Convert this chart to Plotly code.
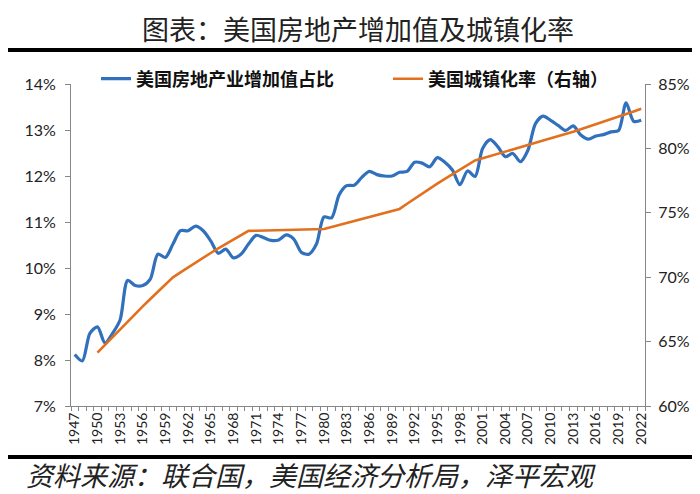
import plotly.graph_objects as go

years = list(range(1947, 2023))

# 美国房地产业增加值占比 (%), left axis
re_share = [8.12, 7.98, 8.58, 8.72, 8.37, 8.58, 8.87, 9.73, 9.62, 9.62,
            9.76, 10.30, 10.23, 10.52, 10.81, 10.81, 10.91, 10.81, 10.59, 10.32,
            10.41, 10.22, 10.30, 10.52, 10.71, 10.66, 10.60, 10.61, 10.72, 10.63,
            10.34, 10.30, 10.52, 11.11, 11.09, 11.59, 11.79, 11.80, 11.97, 12.10,
            12.03, 12.00, 12.00, 12.08, 12.10, 12.30, 12.28, 12.20, 12.40, 12.30,
            12.13, 11.81, 12.11, 11.99, 12.60, 12.79, 12.64, 12.42, 12.49, 12.31,
            12.56, 13.14, 13.30, 13.21, 13.10, 12.99, 13.09, 12.89, 12.80, 12.87,
            12.90, 12.96, 12.99, 13.59, 13.19, 13.21]

# 美国城镇化率 (%), right axis
urban = [None, None, None,
         64.15, 64.76, 65.37, 65.98, 66.57, 67.15, 67.74, 68.31, 68.88, 69.44,
         69.99, 70.38, 70.77, 71.14, 71.51, 71.88, 72.24, 72.58, 72.93, 73.27,
         73.60, 73.61, 73.62, 73.63, 73.64, 73.65, 73.67, 73.69, 73.71, 73.72,
         73.74, 73.90, 74.05, 74.20, 74.35, 74.50, 74.66, 74.82, 74.98, 75.14,
         75.30, 75.70, 76.10, 76.49, 76.88, 77.26, 77.63, 77.99, 78.35, 78.71,
         79.06, 79.23, 79.41, 79.58, 79.76, 79.93, 80.10, 80.27, 80.44, 80.61,
         80.77, 80.94, 81.12, 81.30, 81.48, 81.67, 81.86, 82.06, 82.26, 82.46,
         82.66, 82.87, 83.08]

year_ticks = list(range(1947, 2023, 3))
left_ticks = [7, 8, 9, 10, 11, 12, 13, 14]
right_ticks = [60, 65, 70, 75, 80, 85]

title_text = "图表：美国房地产增加值及城镇化率"
source_text = "资料来源：联合国，美国经济分析局，泽平宏观"
name_a = "美国房地产业增加值占比"
name_b = "美国城镇化率（右轴）"

BLUE = "#3070BC"
ORANGE = "#E2701F"
AXIS = "#878787"
CJK = "Noto Sans CJK SC"
NUM = "Lato, 'Open Sans', sans-serif"

fig = go.Figure()
fig.add_trace(go.Scatter(
    x=years, y=re_share, name=name_a, mode="lines",
    line=dict(color=BLUE, width=3.2, shape="spline", smoothing=0.8),
    legend="legend", yaxis="y"))
fig.add_trace(go.Scatter(
    x=years, y=urban, name=name_b, mode="lines",
    line=dict(color=ORANGE, width=2.6),
    legend="legend2", yaxis="y2"))

W, H = 700, 494
L, R, T, B = 63, 63, 76, 96
PW, PH = W - L - R, H - T - B


def py(px):
    """paper y from pixel y (top-down)"""
    return (H - B - px) / PH


def px_(x):
    return (x - L) / PW


fig.update_layout(
    width=W, height=H,
    margin=dict(l=L, r=R, t=T, b=B, pad=0),
    paper_bgcolor="white", plot_bgcolor="white",
    font=dict(family=NUM, size=15, color="#222222"),
    showlegend=True,
    legend=dict(x=px_(88), y=py(71), xanchor="left", yanchor="middle",
                orientation="h", bgcolor="rgba(0,0,0,0)",
                font=dict(family=CJK, size=18, color="#111111", weight="bold"),
                itemwidth=30),
    legend2=dict(x=px_(380), y=py(71), xanchor="left", yanchor="middle",
                 orientation="h", bgcolor="rgba(0,0,0,0)",
                 font=dict(family=CJK, size=18, color="#111111", weight="bold"),
                 itemwidth=30),
    xaxis=dict(
        range=[1946.5, 2022.5], tickmode="array", tickvals=year_ticks,
        ticktext=[str(y) for y in year_ticks], tickangle=-90,
        showgrid=False, zeroline=False, showline=True, linecolor=AXIS, linewidth=1,
        ticks="", tickfont=dict(family=NUM, size=14, color="#222222"),
        minor=dict(tickmode="linear", tick0=1946.5, dtick=1, ticks="outside",
                   ticklen=4, tickcolor=AXIS, showgrid=False)),
    yaxis=dict(
        range=[7, 14], tickmode="array", tickvals=left_ticks,
        ticktext=[f"{v}%" for v in left_ticks],
        showgrid=False, zeroline=False, showline=True, linecolor=AXIS, linewidth=1,
        ticks="outside", ticklen=5, tickcolor=AXIS, ticklabelstandoff=6,
        tickfont=dict(family=NUM, size=16, color="#222222")),
    yaxis2=dict(
        range=[60, 85], tickmode="array", tickvals=right_ticks,
        ticktext=[f"{v}%" for v in right_ticks], overlaying="y", side="right",
        showgrid=False, zeroline=False, showline=True, linecolor=AXIS, linewidth=1,
        ticks="outside", ticklen=5, tickcolor=AXIS, ticklabelstandoff=4,
        tickfont=dict(family=NUM, size=16, color="#222222")),
    annotations=[
        dict(text=title_text, xref="paper", yref="paper", x=0.5,
             y=py(0), xanchor="center", yanchor="top", borderpad=0,
             showarrow=False, font=dict(family=CJK, size=27, color="#222222")),
        dict(text=source_text, xref="paper", yref="paper",
             x=px_(16), y=py(467),
             xanchor="left", yanchor="middle", showarrow=False,
             font=dict(family=CJK, size=27, color="#222222", style="italic")),
    ],
    shapes=[
        dict(type="line", xref="paper", yref="paper",
             x0=px_(0), x1=px_(W), y0=py(42), y1=py(42),
             line=dict(color="black", width=4)),
        dict(type="line", xref="paper", yref="paper",
             x0=px_(0), x1=px_(W), y0=py(449), y1=py(449),
             line=dict(color="black", width=4)),
    ],
)

fig.write_html("out.html")
